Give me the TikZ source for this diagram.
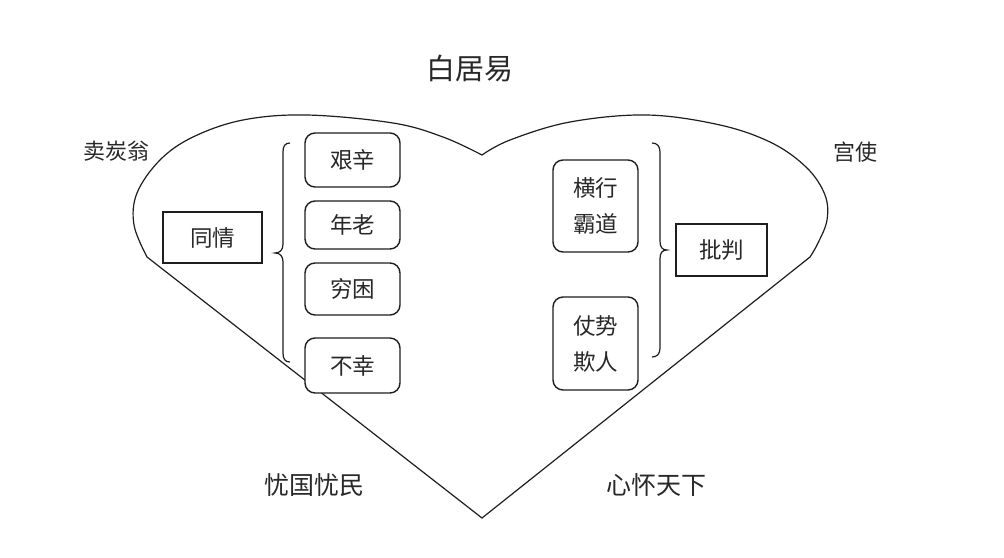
\documentclass[tikz,border=0pt]{standalone}
\usepackage{fontspec}
\setmainfont{Noto Sans CJK SC}
\definecolor{txt}{RGB}{40,40,40}
\definecolor{ln}{RGB}{30,30,30}
\begin{document}
\begin{tikzpicture}[x=1pt,y=-1pt,
  lbl/.style={text=txt,font=\fontsize{22}{36}\selectfont,inner sep=0pt},
  rbox/.style={draw=ln,fill=white,line width=1.4pt,rounded corners=10pt,text=txt,font=\fontsize{22.5}{36}\selectfont,align=center,inner sep=0pt},
  sbox/.style={draw=ln,fill=white,line width=1.4pt,text=txt,font=\fontsize{22.5}{36}\selectfont,inner sep=0pt},
  outline/.style={draw=ln,line width=1.2pt,line join=miter},
  bracestyle/.style={draw=ln,line width=1.2pt}]
\useasboundingbox (0,0) rectangle (1004,557);
\fill[white] (0,0) rectangle (1004,557);
% heart
\draw[outline] plot[smooth,tension=0.6] coordinates {(147,257) (134,225) (137,193) (160,160) (193,137) (243,120) (307,115) (393,123) (443,137) (482,155)}
  -- plot[smooth,tension=0.6] coordinates {(482,155) (510,140) (570,122) (647,115) (720,125) (772,143) (807,168) (825,195) (827,220) (818,243) (810,257)}
  -- (482,518) -- cycle;
% title and labels
\node[lbl,font=\fontsize{29}{36}\selectfont] (title) at (470,68) {白居易};
\node[lbl] (mtw) at (116,151) {卖炭翁};
\node[lbl] (gs) at (855,152) {宫使};
\node[lbl,font=\fontsize{25}{36}\selectfont] (ygym) at (314,485) {忧国忧民};
\node[lbl,font=\fontsize{25}{36}\selectfont] (xhtx) at (656,485) {心怀天下};
% left boxes
\node[sbox,minimum width=99pt,minimum height=51pt] (tq) at (212.5,237.5) {同情};
\node[rbox,minimum width=95pt,minimum height=54pt] (jx) at (352.5,160) {艰辛};
\node[rbox,minimum width=95pt,minimum height=48pt] (nl) at (352.5,225) {年老};
\node[rbox,minimum width=95pt,minimum height=52pt] (qk) at (352.5,289) {穷困};
\node[rbox,minimum width=95pt,minimum height=55pt] (bx) at (352.5,365.5) {不幸};
% right boxes
\node[rbox,minimum width=85pt,minimum height=92pt] (hx) at (595.5,206) {横行\\霸道};
\node[rbox,minimum width=85pt,minimum height=93pt] (zs) at (595.5,343.5) {仗势\\欺人};
\node[sbox,minimum width=91pt,minimum height=52pt] (pp) at (721.5,250) {批判};
% braces
\draw[bracestyle] (290,143) .. controls (285,143) and (283,146) .. (283,152) -- (283,244) .. controls (283,250) and (280,253) .. (275,253) .. controls (280,253) and (283,256) .. (283,262) -- (283,353) .. controls (283,359) and (285,362) .. (290,362);
\draw[bracestyle] (652,143) .. controls (657,143) and (660,146) .. (660,152) -- (660,241) .. controls (660,247) and (662,250) .. (667,250) .. controls (662,250) and (660,253) .. (660,259) -- (660,348) .. controls (660,354) and (657,357) .. (652,357);
\end{tikzpicture}
\end{document}
